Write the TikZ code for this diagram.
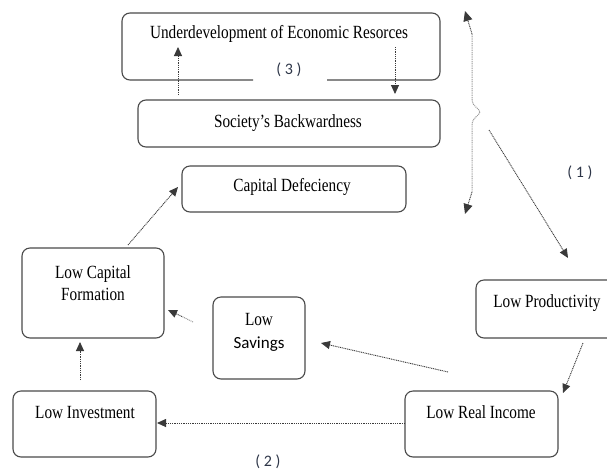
\documentclass[tikz,border=0pt]{standalone}
\usepackage{fontspec}
\setmainfont{Liberation Serif}[FakeStretch=0.82]
\newfontfamily\labfont{Carlito}
\usetikzlibrary{arrows.meta}
\definecolor{boxgray}{HTML}{4A4A4A}
\definecolor{arrgray}{HTML}{3A3A3A}
\definecolor{lightarr}{HTML}{9A9A9A}
\definecolor{labcol}{HTML}{2E3648}
\tikzset{
  rbox/.style={draw=boxgray, line width=1.1pt, rounded corners=8pt, inner sep=0pt, fill=none},
  txt/.style={inner sep=0pt, anchor=base, font=\fontsize{18.6}{22}\selectfont},
  ctxt/.style={inner sep=0pt, anchor=base, font=\labfont\fontsize{17}{20}\selectfont},
  lab/.style={inner sep=0pt, anchor=center, text=labcol, font=\labfont\fontsize{16}{19}\selectfont},
  darr/.style={draw=arrgray, line width=0.9pt, dash pattern=on 1pt off 0.8pt, -{Triangle[length=9pt,width=8pt]}},
  bigarr/.style={draw=arrgray, line width=0.9pt, dash pattern=on 1pt off 0.8pt, -{Triangle[length=10pt,width=9pt]}},
  lline/.style={draw=lightarr, line width=1pt, dash pattern=on 1pt off 0.8pt}
}
\begin{document}
\begin{tikzpicture}[x=1pt,y=-1pt]
\useasboundingbox (0,0) rectangle (607,472);

% top box with gap in bottom edge
\draw[draw=boxgray, line width=1.1pt, rounded corners=8pt] (253,80) -- (122,80) -- (122,13) -- (440,13) -- (440,80) -- (327,80);
\node[txt] (tUD) at (279,38) {Underdevelopment of Economic Resorces};
\node[lab] (l3) at (289,70) {( 3 )};

% boxes
\node[rbox, minimum width=302pt, minimum height=47pt] (SB) at (289,123.5) {};
\node[txt] (tSB) at (288,127) {Society’s Backwardness};

\node[rbox, minimum width=224pt, minimum height=46pt] (CD) at (294,189) {};
\node[txt] (tCD) at (292,191) {Capital Defeciency};

\node[rbox, minimum width=142pt, minimum height=90pt] (LCF) at (93,293) {};
\node[txt] (tLCFa) at (93,278) {Low Capital};
\node[txt] (tLCFb) at (93,300) {Formation};

\node[rbox, minimum width=92pt, minimum height=82pt] (LS) at (259,338) {};
\node[txt] (tLSa) at (259,325) {Low};
\node[ctxt] (tLSb) at (259,348) {Savings};

\node[rbox, minimum width=144pt, minimum height=58pt] (LP) at (548,309) {};
\node[txt] (tLP) at (547,307) {Low Productivity};

\node[rbox, minimum width=143pt, minimum height=66pt] (LI) at (84.5,424) {};
\node[txt] (tLI) at (85,418) {Low Investment};

\node[rbox, minimum width=153pt, minimum height=66pt] (LRI) at (481.5,424) {};
\node[txt] (tLRI) at (481,418) {Low Real Income};

\node[lab] (l1) at (580,173) {( 1 )};
\node[lab] (l2) at (268,462) {( 2 )};

% arrow end points
\coordinate (sbUp) at (178,95);   \coordinate (udIn) at (178,47);
\coordinate (udOut) at (395,47);  \coordinate (sbIn) at (395,94);
\coordinate (lcfOut) at (128,245); \coordinate (cdIn) at (178,187);
\coordinate (lsOut) at (193,322); \coordinate (lsMid) at (182,316.5); \coordinate (lcfIn) at (168,310);
\coordinate (lriOut) at (448,372); \coordinate (lsIn) at (321,343);
\coordinate (lriL) at (405,423);  \coordinate (liIn) at (157,423);
\coordinate (liUp) at (80,380);   \coordinate (lcfB) at (80,342);
\coordinate (lpOut) at (583,343); \coordinate (lriIn) at (563,393);
\coordinate (brOut) at (489,130); \coordinate (lpIn) at (568,258);
\coordinate (brTop) at (465,11);  \coordinate (brBot) at (465,214);
\coordinate (brA) at (472,34);    \coordinate (brB) at (472,192);

\draw[darr] (sbUp) -- (udIn);
\draw[darr] (udOut) -- (sbIn);
\draw[darr] (lcfOut) -- (cdIn);
\draw[lline] (lsOut) -- (lsMid);
\draw[darr] (lsMid) -- (lcfIn);
\draw[darr] (lriOut) -- (lsIn);
\draw[darr] (lriL) -- (liIn);
\draw[darr] (liUp) -- (lcfB);
\draw[darr] (lpOut) -- (lriIn);
\draw[darr] (brOut) -- (lpIn);

% brace with arrow ends
\draw[lline] (brA) -- (472,100) .. controls (472,106) and (479,108) .. (480,112) .. controls (479,116) and (472,118) .. (472,124) -- (brB);
\draw[bigarr] (brA) -- (brTop);
\draw[bigarr] (brB) -- (brBot);
\end{tikzpicture}
\end{document}
